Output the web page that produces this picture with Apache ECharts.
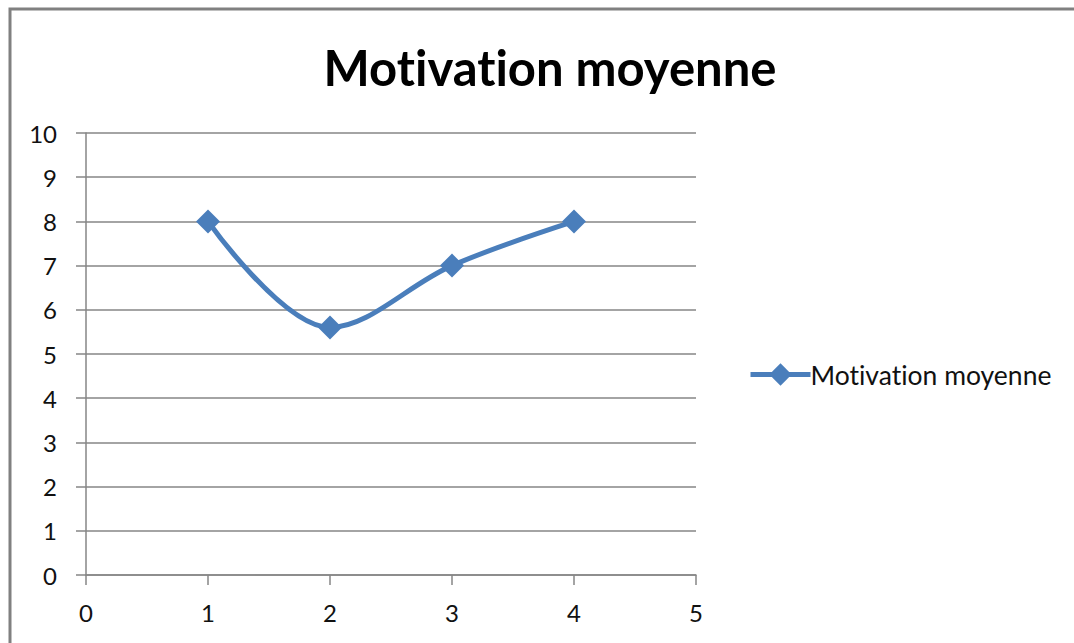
<!DOCTYPE html>
<html>
<head>
<meta charset="utf-8">
<script src="https://cdn.jsdelivr.net/npm/echarts@6/dist/echarts.min.js"></script>
<style>
  html, body { margin: 0; padding: 0; background: #fff; }
  #chart { width: 1074px; height: 643px; font-variant-ligatures: none; }
  #chart text { font-variant-ligatures: none; }
</style>
</head>
<body>
<div id="chart"></div>
<script>
// Average motivation per session
const seriesName = 'Motivation moyenne';
const sessions = [1, 2, 3, 4];
const motivation = [8, 5.6, 7, 8];

const FONT = 'Lato, "Open Sans", sans-serif';
const AXIS_GRAY = '#868686';
const BLUE = '#4a7ebb';

const chart = echarts.init(document.getElementById('chart'), null, { renderer: 'svg' });
chart.setOption({
  animation: false,
  backgroundColor: '#ffffff',
  title: {
    text: seriesName,
    left: 545,
    top: 37,
    textAlign: 'center',
    textStyle: { fontFamily: FONT, fontWeight: 'bold', fontSize: 49, color: '#000' }
  },
  legend: {
    data: [seriesName],
    orient: 'vertical',
    left: 748,
    top: 361,
    padding: 0,
    itemWidth: 60,
    itemHeight: 28,
    itemGap: 0,
    lineStyle: { width: 5, color: BLUE },
    textStyle: { fontFamily: FONT, fontSize: 26.5, color: '#111', padding: [0, 0, 0, -5] }
  },
  grid: { left: 86, right: 378, top: 133, bottom: 68, containLabel: false },
  xAxis: {
    type: 'value',
    min: 0,
    max: 5,
    interval: 1,
    axisLine: { show: true, lineStyle: { color: AXIS_GRAY, width: 1.5 } },
    axisTick: { show: true, length: 10, inside: false, lineStyle: { color: AXIS_GRAY, width: 1.5 } },
    splitLine: { show: false },
    axisLabel: { margin: 25, fontFamily: FONT, fontSize: 24, color: '#111' }
  },
  yAxis: {
    type: 'value',
    min: 0,
    max: 10,
    interval: 1,
    axisLine: { show: true, lineStyle: { color: AXIS_GRAY, width: 1.5 } },
    axisTick: { show: true, length: 10, inside: false, lineStyle: { color: AXIS_GRAY, width: 1.5 } },
    splitLine: { show: true, lineStyle: { color: AXIS_GRAY, width: 1.5 } },
    axisLabel: { margin: 29, fontFamily: FONT, fontSize: 24, color: '#111' }
  },
  series: [{
    name: seriesName,
    type: 'line',
    data: sessions.map((s, i) => [s, motivation[i]]),
    smooth: 0.35,
    symbol: 'diamond',
    symbolSize: 24,
    lineStyle: { color: BLUE, width: 5 },
    itemStyle: { color: BLUE }
  }],
  graphic: [{
    type: 'rect',
    shape: { x: 10, y: 9, width: 1200, height: 800 },
    style: { fill: 'none', stroke: '#808080', lineWidth: 3 },
    silent: true
  }]
});
</script>
</body>
</html>
